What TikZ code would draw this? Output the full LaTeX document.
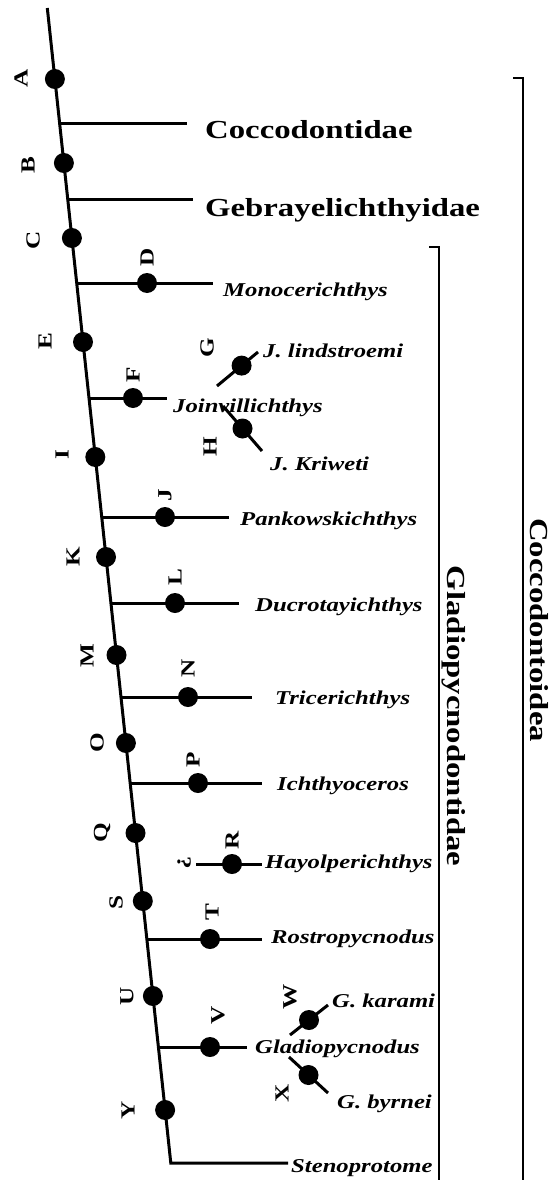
\documentclass[tikz,border=0pt]{standalone}
\usepackage{fontspec}
\setmainfont{Liberation Serif}[FakeStretch=1.26]
\usetikzlibrary{calc}
\begin{document}
\begin{tikzpicture}[x=1pt,y=-1pt,
  dot/.style={circle,fill=black,inner sep=0pt,minimum size=20pt},
  taxon/.style={anchor=base west,inner sep=0pt,font=\fontsize{19.6}{20}\selectfont\bfseries\itshape},
  family/.style={anchor=base west,inner sep=0pt,font=\fontsize{26}{28}\selectfont\bfseries},
  clade/.style={anchor=base,inner sep=0pt,rotate=-90,font=\fontsize{26}{28}\selectfont\bfseries},
  tag/.style={inner sep=0pt,rotate=90,font=\fontsize{20}{20}\selectfont\bfseries},
  edge/.style={line width=3pt},
  bracket/.style={line width=2pt}]
\useasboundingbox (0,0) rectangle (558,1180);

% main stem and its end branch
\coordinate (top) at (47.3,8);
\coordinate (bot) at (170.8,1163);
\coordinate (eSte) at (288,1163);
\draw[edge,line join=miter] (top) -- (bot) -- (eSte);

% nodes on the stem
\node[dot] (A) at (54.9,79) {};
\node[dot] (B) at (63.9,163) {};
\node[dot] (C) at (71.9,238) {};
\node[dot] (E) at (83.0,342) {};
\node[dot] (I) at (95.3,457) {};
\node[dot] (K) at (106.0,557) {};
\node[dot] (M) at (116.5,655) {};
\node[dot] (O) at (125.9,743) {};
\node[dot] (Q) at (135.5,833) {};
\node[dot] (S) at (142.8,901) {};
\node[dot] (U) at (152.9,996) {};
\node[dot] (Y) at (165.1,1110) {};

% branch points on the stem and branch ends
\coordinate (bCoc) at (59.7,124);  \coordinate (eCoc) at (187,124);
\coordinate (bGeb) at (67.7,199);  \coordinate (eGeb) at (193,199);
\coordinate (bMon) at (76.7,283);  \coordinate (eMon) at (213,283);
\coordinate (bJoi) at (89.0,398);  \coordinate (eJoi) at (167,398);
\coordinate (bPan) at (101.7,517); \coordinate (ePan) at (229,517);
\coordinate (bDuc) at (110.9,603); \coordinate (eDuc) at (239,603);
\coordinate (bTri) at (121.0,697); \coordinate (eTri) at (252,697);
\coordinate (bIch) at (130.2,783); \coordinate (eIch) at (262,783);
\coordinate (bHay) at (196,864);   \coordinate (eHay) at (262,864);
\coordinate (bRos) at (146.9,939); \coordinate (eRos) at (262,939);
\coordinate (bGla) at (158.4,1047);\coordinate (eGla) at (247,1047);

\foreach \n in {Coc,Geb,Mon,Joi,Pan,Duc,Tri,Ich,Hay,Ros,Gla}
  \draw[edge] (b\n) -- (e\n);

% nodes on the branches
\node[dot] (D) at (147,283) {};
\node[dot] (F) at (133,398) {};
\node[dot] (J) at (165,517) {};
\node[dot] (L) at (175,603) {};
\node[dot] (N) at (188,697) {};
\node[dot] (P) at (198,783) {};
\node[dot] (R) at (232,864) {};
\node[dot] (T) at (210,939) {};
\node[dot] (V) at (210,1047) {};

% species of Joinvillichthys and Gladiopycnodus
\coordinate (g1) at (217,386); \coordinate (g2) at (258,352);
\coordinate (h1) at (223,406); \coordinate (h2) at (262,451);
\coordinate (w1) at (290,1035); \coordinate (w2) at (328,1005);
\coordinate (x1) at (289,1057); \coordinate (x2) at (328,1093);
\draw[edge] (g1) -- (g2);
\draw[edge] (h1) -- (h2);
\draw[edge] (w1) -- (w2);
\draw[edge] (x1) -- (x2);
\node[dot] (G) at ($(g1)!0.6!(g2)$) {};
\node[dot] (H) at ($(h1)!0.5!(h2)$) {};
\node[dot] (W) at ($(w1)!0.5!(w2)$) {};
\node[dot] (X) at ($(x1)!0.5!(x2)$) {};

% family names
\node[family] (tCoc) at (205,139) {Coccodontidae};
\node[family] (tGeb) at (205,216) {Gebrayelichthyidae};

% genus and species names
\node[taxon] (tMon) at (223,296) {Monocerichthys};
\node[taxon] (tJli) at (263,357) {J. lindstroemi};
\node[taxon] (tJoi) at (173,412) {Joinvillichthys};
\node[taxon] (tJkr) at (270,470) {J. Kriweti};
\node[taxon] (tPan) at (240,525) {Pankowskichthys};
\node[taxon] (tDuc) at (255,611) {Ducrotayichthys};
\node[taxon] (tTri) at (275,704) {Tricerichthys};
\node[taxon] (tIch) at (277,790) {Ichthyoceros};
\node[taxon] (tHay) at (265,868) {Hayolperichthys};
\node[taxon] (tRos) at (271,943) {Rostropycnodus};
\node[taxon] (tGka) at (332,1007) {G. karami};
\node[taxon] (tGla) at (255,1053) {Gladiopycnodus};
\node[taxon] (tGby) at (337,1108) {G. byrnei};
\node[taxon] (tSte) at (291,1172) {Stenoprotome};

% node letters
\node[tag] (lA) at (21,78) {A};
\node[tag] (lB) at (28,165) {B};
\node[tag] (lC) at (33,240) {C};
\node[tag] (lD) at (147,257) {D};
\node[tag] (lE) at (45,341) {E};
\node[tag] (lF) at (133,375) {F};
\node[tag] (lG) at (207,348) {G};
\node[tag] (lH) at (210,447) {H};
\node[tag] (lI) at (62,455) {I};
\node[tag] (lJ) at (165,495) {J};
\node[tag] (lK) at (73,557) {K};
\node[tag] (lL) at (175,577) {L};
\node[tag] (lM) at (87,656) {M};
\node[tag] (lN) at (188,668) {N};
\node[tag] (lO) at (97,743) {O};
\node[tag] (lP) at (193,760) {P};
\node[tag] (lQ) at (102,833) {Q};
\node[tag] (lR) at (232,840) {R};
\node[tag,rotate=180] (lq) at (184,863) {?};
\node[tag] (lS) at (116,902) {S};
\node[tag] (lT) at (212,912) {T};
\node[tag] (lU) at (127,996) {U};
\node[tag] (lV) at (218,1015) {V};
\node[tag] (lW) at (290,997) {W};
\node[tag] (lX) at (282,1093) {X};
\node[tag] (lY) at (128,1110) {Y};

% clade brackets
\coordinate (cTop) at (523,78);  \coordinate (cBot) at (523,1180);
\coordinate (gTop) at (439,247); \coordinate (gBot) at (439,1180);
\draw[bracket] ($(cTop)+(-10,0)$) -- (cTop) -- (cBot);
\draw[bracket] ($(gTop)+(-10,0)$) -- (gTop) -- (gBot);
\node[clade] (tCla) at (530,630) {Coccodontoidea};
\node[clade] (tGlf) at (447,716) {Gladiopycnodontidae};
\end{tikzpicture}
\end{document}
